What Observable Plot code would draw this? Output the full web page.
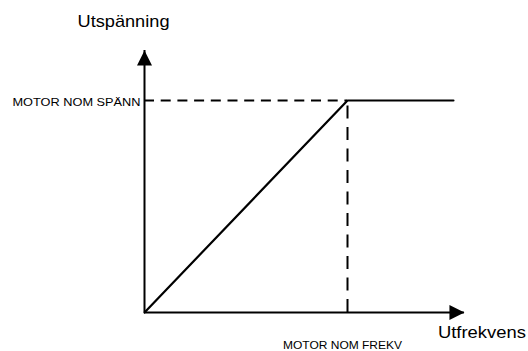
<!DOCTYPE html>
<html>
<head>
<meta charset="utf-8">
<script src="https://cdn.jsdelivr.net/npm/d3@7"></script>
<script src="https://cdn.jsdelivr.net/npm/@observablehq/plot@0.6"></script>
<style>
  html, body { margin: 0; padding: 0; background: #fff; }
</style>
</head>
<body>
<div id="chart"></div>
<script>
// Data (relative units: nominal frequency = 1, nominal voltage = 1)
const vfFreq = [0, 1, 1.522];
const vfVolt = [0, 1, 1];
const nomFreq = 1;
const nomVolt = 1;
const xAxisEnd = 1.576;
const yAxisEnd = 1.236;
const yLabel = "Utspänning";
const xLabel = "Utfrekvens";
const nomVoltLabel = "MOTOR NOM SPÄNN";
const nomFreqLabel = "MOTOR NOM FREKV";

const curve = vfFreq.map((f, i) => ({f, v: vfVolt[i]}));

const arrowHead = {
  draw(context, size) {
    const h = Math.sqrt(size / Math.PI) * 2;
    context.moveTo(0, 0);
    context.lineTo(h / 2, h);
    context.lineTo(-h / 2, h);
    context.closePath();
  }
};

const font = "Liberation Sans, Arial, Helvetica, sans-serif";

const chart = Plot.plot({
  width: 528,
  height: 351,
  marginLeft: 144,
  marginRight: 59.2,
  marginTop: 47,
  marginBottom: 39,
  style: {fontFamily: font, background: "#fff", overflow: "visible"},
  x: {domain: [0, 1.6], axis: null},
  y: {domain: [0, 1.25], axis: null},
  marks: [
    // dashed reference lines
    Plot.ruleY([nomVolt], {x1: 0, x2: nomFreq, stroke: "black", strokeWidth: 2, strokeDasharray: "10,6.7"}),
    Plot.ruleX([nomFreq], {y1: 0, y2: nomVolt, stroke: "black", strokeWidth: 2, strokeDasharray: "13,8.5"}),
    // axes
    Plot.ruleX([0], {y1: 0, y2: yAxisEnd, stroke: "black", strokeWidth: 2}),
    Plot.ruleY([0], {x1: 0, x2: xAxisEnd, stroke: "black", strokeWidth: 2}),
    Plot.dot([{x: 0, y: yAxisEnd}], {x: "x", y: "y", symbol: arrowHead, r: 7.5, fill: "black", stroke: null}),
    Plot.dot([{x: xAxisEnd, y: 0}], {x: "x", y: "y", symbol: arrowHead, r: 7.5, fill: "black", stroke: null, rotate: 90}),
    // V/f curve
    Plot.line(curve, {x: "f", y: "v", stroke: "black", strokeWidth: 2.2}),
    // labels
    Plot.text([yLabel], {x: 0, y: yAxisEnd, text: d => d, dx: -21, dy: -23, lineAnchor: "bottom", fontSize: 17, fill: "black", textAnchor: "middle"}),
    Plot.text([xLabel], {x: xAxisEnd, y: 0, text: d => d, dx: 17.5, dy: 25, lineAnchor: "bottom", fontSize: 17, fill: "black", textAnchor: "middle"}),
    Plot.text([nomVoltLabel], {x: 0, y: nomVolt, text: d => d, dx: -4, dy: 5, lineAnchor: "bottom", fontSize: 10.2, fill: "black", textAnchor: "end"}),
    Plot.text([nomFreqLabel], {x: nomFreq, y: 0, text: d => d, dx: -5, dy: 36.3, lineAnchor: "bottom", fontSize: 10.2, fill: "black", textAnchor: "middle"})
  ]
});

// stretch labels to the widths seen in the reference
const widths = {[yLabel]: 92, [xLabel]: 88, [nomVoltLabel]: 128, [nomFreqLabel]: 119};
d3.select(chart).selectAll("text").each(function() {
  const t = this.textContent;
  if (widths[t]) {
    this.setAttribute("textLength", widths[t]);
    this.setAttribute("lengthAdjust", "spacingAndGlyphs");
  }
});

document.getElementById("chart").appendChild(chart);
</script>
</body>
</html>
